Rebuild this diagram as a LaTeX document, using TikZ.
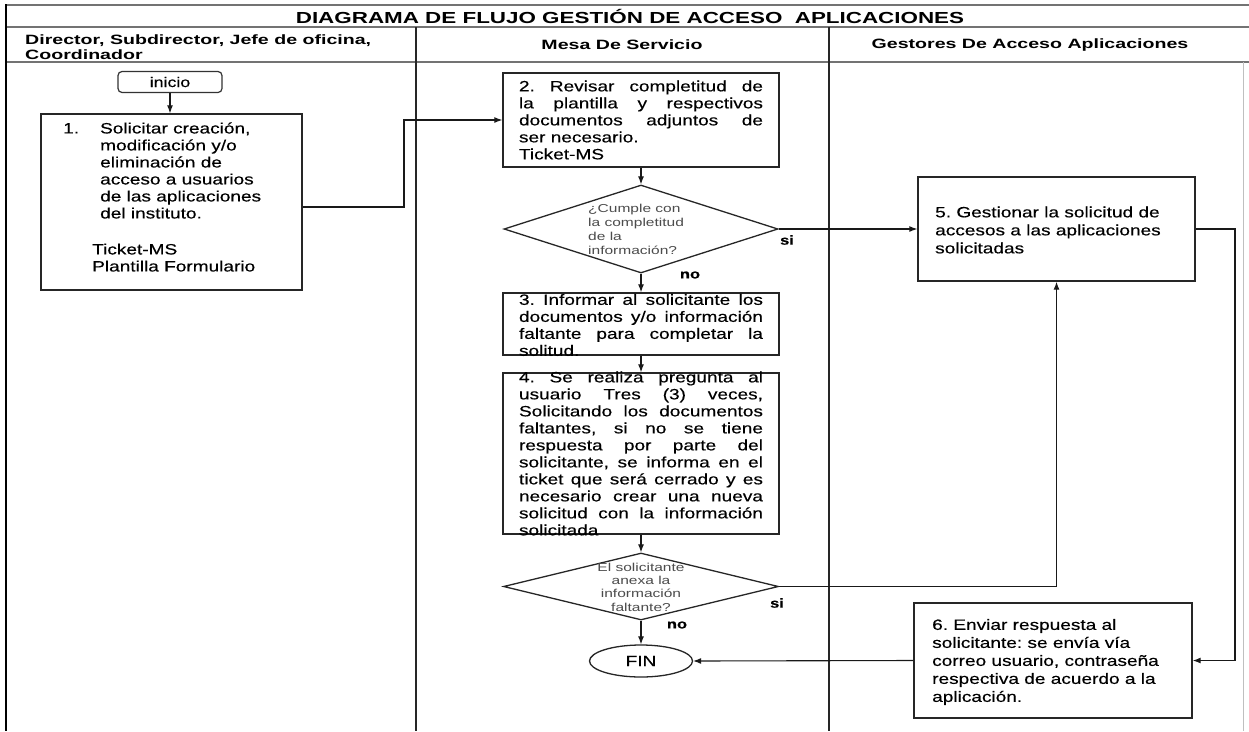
\documentclass[tikz,border=0pt]{standalone}
\usepackage{fontspec}
\setmainfont{Liberation Sans}
\newfontfamily\bodyf[FakeStretch=1.27,FakeBold=0.3]{Liberation Sans}
\newfontfamily\headf[FakeStretch=1.45]{Liberation Sans}
\newfontfamily\titlef[FakeStretch=1.4]{Liberation Sans}
\newfontfamily\smallf[FakeStretch=1.35]{Liberation Sans}
\usetikzlibrary{shapes.geometric,arrows.meta,calc}
\setlength{\parindent}{0pt}
\frenchspacing
\begin{document}
\begin{tikzpicture}[x=1pt,y=-1pt,
 box/.style={draw=black!85, line width=1.4pt, rectangle, inner sep=0pt},
 dia/.style={draw=black!85, line width=1.3pt, diamond, inner sep=0pt},
 arr/.style={draw=black!90, line width=1.1pt, -{Latex[length=8pt,width=6pt]}},
 lane/.style={draw=black!85, line width=1.2pt},
 hline/.style={draw=black!55, line width=2pt},
 txt/.style={font=\bodyf\fontsize{15}{17}\selectfont, inner sep=0pt},
 jtxt/.style={txt, text width=244pt, align=justify},
 ltxt/.style={font=\bodyf\fontsize{15}{18}\selectfont, inner sep=0pt, align=left},
 dtxt/.style={font=\smallf\fontsize{11.5}{14}\selectfont, inner sep=0pt, text=black!70},
 lab/.style={font=\bodyf\bfseries\fontsize{13}{15}\selectfont, inner sep=0pt},
 head/.style={font=\headf\bfseries\fontsize{13.5}{15}\selectfont, inner sep=0pt}
]
\useasboundingbox (0,0) rectangle (1249,731);
\fill[white] (0,0) rectangle (1249,731);
% frame
\draw[hline] (6,5) -- (1249,5);
\draw[hline] (6,27) -- (1249,27);
\draw[hline] (6,62) -- (1249,62);
\draw[draw=black, line width=2pt] (6,4) -- (6,731);
\draw[lane] (416,27) -- (416,731);
\draw[lane] (829,27) -- (829,731);
\draw[draw=black!25, line width=1pt] (1243,62) -- (1243,731);
% title and headers
\node[font=\titlef\bfseries\fontsize{16}{18}\selectfont, inner sep=0pt] (title) at (630,16) {DIAGRAMA DE FLUJO GESTIÓN DE ACCESO\ \ APLICACIONES};
\node[head, anchor=west, align=left] (h1) at (25,47.5) {Director, Subdirector, Jefe de oficina,\\Coordinador};
\node[head] (h2) at (622,45) {Mesa De Servicio};
\node[head] (h3) at (1030,45) {Gestores De Acceso Aplicaciones};
% shapes
\node[draw=black!80, line width=1.2pt, rectangle, rounded corners=4pt, minimum width=104pt, minimum height=21pt, inner sep=0pt, font=\bodyf\fontsize{14}{16}\selectfont] (ini) at (170,82) {inicio};
\node[box, minimum width=261pt, minimum height=176pt] (b1) at (171.5,202) {};
\node[box, minimum width=276pt, minimum height=94pt] (b2) at (641,120) {};
\node[dia, minimum width=274pt, minimum height=88pt] (d1) at (641,229) {};
\node[box, minimum width=276pt, minimum height=62pt] (b3) at (641,324) {};
\node[box, minimum width=276pt, minimum height=161pt] (b4) at (641,453.5) {};
\node[dia, minimum width=275pt, minimum height=67pt] (d2) at (641,586.5) {};
\node[draw=black!85, line width=1.3pt, ellipse, minimum width=103pt, minimum height=32pt, inner sep=0pt, font=\bodyf\fontsize{15}{17}\selectfont] (fin) at (641,661) {FIN};
\node[box, minimum width=277pt, minimum height=104pt] (b5) at (1056.5,229) {};
\node[box, minimum width=278pt, minimum height=115pt] (b6) at (1053,660.5) {};
% texts
\node[txt, anchor=west, align=left] (t1) at (63,197) {1.\hspace*{21pt}Solicitar creación,\\\hspace*{37pt}modificación y/o\\\hspace*{37pt}eliminación de\\\hspace*{37pt}acceso a usuarios\\\hspace*{37pt}de las aplicaciones\\\hspace*{37pt}del instituto.\\[19pt]\hspace*{29pt}Ticket-MS\\\hspace*{29pt}Plantilla Formulario};
\node[jtxt] (t2) at (b2.center) {2. Revisar completitud de\linebreak la plantilla y respectivos\linebreak documentos adjuntos de\linebreak ser necesario.\newline Ticket-MS};
\node[dtxt, anchor=west, align=left] (td1) at (588,229) {¿Cumple con\\la completitud\\de la\\información?};
\node[jtxt] (t3) at ([yshift=-1pt]b3.center) {3. Informar al solicitante los\linebreak documentos y/o información\linebreak faltante para completar la\linebreak solitud.};
\node[jtxt] (t4) at (b4.center) {4. Se realiza pregunta al\linebreak usuario Tres (3) veces,\linebreak Solicitando los documentos\linebreak faltantes, si no se tiene\linebreak respuesta por parte del\linebreak solicitante, se informa en el\linebreak ticket que será cerrado y es\linebreak necesario crear una nueva\linebreak solicitud con la información\linebreak solicitada};
\node[dtxt, align=center, font=\smallf\fontsize{11.5}{13.3}\selectfont] (td2) at (641,587) {El solicitante\\anexa la\\información\\faltante?};
\node[ltxt, anchor=west] (t5) at (935,230) {5. Gestionar la solicitud de\\accesos a las aplicaciones\\solicitadas};
\node[ltxt, anchor=west] (t6) at (932,662) {6. Enviar respuesta al\\solicitante: se envía vía\\correo usuario, contraseña\\respectiva de acuerdo a la\\aplicación.};
% labels
\node[lab] (si1) at (787,240) {si};
\node[lab] (no1) at (690,275) {no};
\node[lab] (si2) at (777,603) {si};
\node[lab] (no2) at (677,625) {no};
% connectors
\coordinate (j1) at (404,0);
\coordinate (j2) at (1235,0);
\draw[arr] (ini.south) -- (ini.south |- b1.north);
\draw[arr] ([yshift=-5pt]b1.east) -| (j1 |- b2.west) -- (b2.west);
\draw[arr] (b2.south) -- (d1.north);
\draw[arr] (d1.east) -- (b5.west);
\draw[arr] (d1.south) -- (b3.north);
\draw[arr] (b3.south) -- (b4.north);
\draw[arr] (b4.south) -- (d2.north);
\draw[arr] (d2.east) -| (b5.south);
\draw[arr] (d2.south) -- (fin.north);
\draw[arr] (b5.east) -| (j2 |- b6.east) -- (b6.east);
\draw[arr] (b6.west) -- (fin.east);
\end{tikzpicture}
\end{document}
